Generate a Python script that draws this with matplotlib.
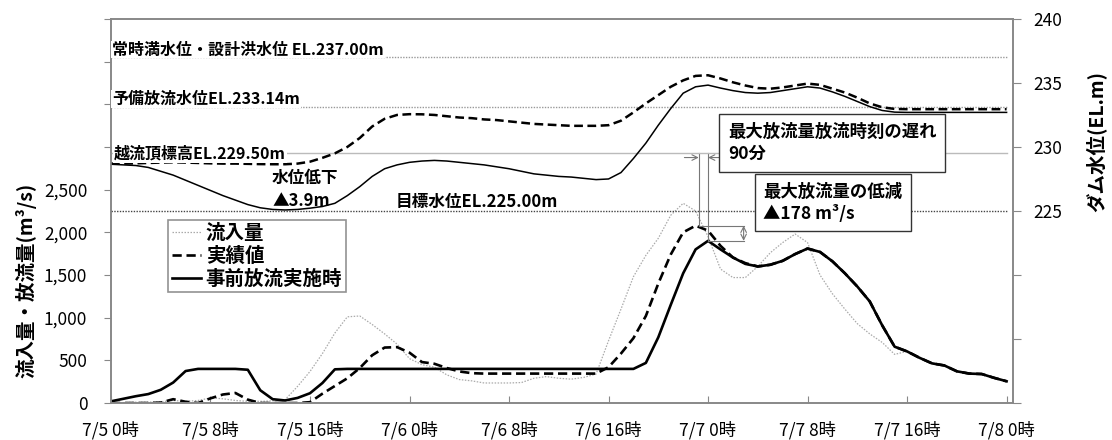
import matplotlib
matplotlib.use('Agg')
import matplotlib.pyplot as plt

plt.rcParams['font.family'] = ['Noto Sans CJK JP', 'DejaVu Sans']

# hours from 7/5 0時
hours = list(range(73))

# 流入量 (m3/s)
inflow = [0, 5, 10, 10, 15, 30, 20, 30, 60, 50, 30, 20, 20, 25, 40, 195, 370, 580, 820, 1010,
          1020, 920, 810, 690, 520, 450, 420, 330, 275, 260, 235, 235, 235, 240, 290, 310, 290, 280, 300, 340,
          730, 1100, 1480, 1730, 1930, 2200, 2340, 2250, 1950, 1570, 1470, 1470, 1600, 1760, 1880, 1980,
          1880, 1500, 1280, 1100, 930, 810, 710, 570, 605, 530, 465, 440, 372, 345, 340, 295, 255]

# 実績値 放流量
actual_q = [0, 0, 0, 0, 5, 45, 15, 0, 55, 100, 118, 40, 0, 0, 0, 0, 10, 110, 200, 290,
            410, 560, 650, 655, 590, 480, 460, 410, 370, 350, 345, 345, 345, 345, 345, 345, 345, 345, 345, 345,
            420, 580, 760, 1020, 1400, 1740, 2000, 2078, 2020, 1842, 1705, 1639, 1600, 1620, 1666, 1745,
            1810, 1770, 1660, 1520, 1365, 1190, 910, 660, 605, 530, 465, 440, 372, 345, 340, 295, 255]

# 事前放流実施時 放流量
pre_q = [20, 50, 80, 105, 155, 240, 375, 400, 400, 400, 400, 390, 150, 45, 30, 60, 115, 235, 395, 400,
         400, 400, 400, 400, 400, 400, 400, 400, 400, 400, 400, 400, 400, 400, 400, 400, 400, 400, 400, 400,
         400, 400, 400, 470, 770, 1150, 1520, 1800, 1900, 1800, 1705, 1630, 1600, 1620, 1666, 1745,
         1810, 1770, 1660, 1520, 1365, 1190, 910, 660, 605, 530, 465, 440, 372, 345, 340, 295, 255]

# ダム水位 (EL.m)
actual_wl = [228.7, 228.7, 228.72, 228.75, 228.78, 228.8, 228.78, 228.75, 228.72, 228.7, 228.7, 228.68,
             228.66, 228.65, 228.65, 228.7, 228.85, 229.15, 229.5, 230.0, 230.7, 231.6, 232.2, 232.5,
             232.56, 232.55, 232.5, 232.4, 232.3, 232.25, 232.15, 232.1, 232.0, 231.9, 231.8, 231.75,
             231.7, 231.65, 231.65, 231.65, 231.7, 232.05, 232.7, 233.4, 234.05, 234.7, 235.2, 235.55,
             235.6, 235.35, 235.05, 234.8, 234.6, 234.55, 234.65, 234.8, 234.95, 234.85, 234.55, 234.25,
             233.85, 233.4, 233.1, 232.97, 232.95, 232.95, 232.95, 232.95, 232.95, 232.95, 232.95, 232.95, 232.95]
pre_wl = [228.65, 228.6, 228.55, 228.4, 228.1, 227.8, 227.4, 227.0, 226.6, 226.2, 225.85, 225.5,
          225.25, 225.12, 225.08, 225.12, 225.22, 225.35, 225.6, 226.2, 226.9, 227.7, 228.3, 228.6,
          228.8, 228.9, 228.95, 228.9, 228.8, 228.7, 228.6, 228.45, 228.3, 228.1, 227.9, 227.8,
          227.7, 227.65, 227.55, 227.45, 227.5, 228.0, 229.1, 230.3, 231.7, 233.0, 234.2, 234.7,
          234.83, 234.6, 234.4, 234.25, 234.2, 234.25, 234.4, 234.55, 234.7, 234.6, 234.3, 233.95,
          233.55, 233.15, 232.85, 232.72, 232.7, 232.7, 232.7, 232.7, 232.7, 232.7, 232.7, 232.7, 232.7]

tick_hours = [0, 8, 16, 24, 32, 40, 48, 56, 64, 72]
tick_labels = ['7/5 0時', '7/5 8時', '7/5 16時', '7/6 0時', '7/6 8時', '7/6 16時',
               '7/7 0時', '7/7 8時', '7/7 16時', '7/8 0時']

fig = plt.figure(figsize=(11.12, 4.4), dpi=100)
ax = fig.add_axes([0.0998, 0.084, 0.811, 0.873])
ax2 = ax.twinx()

spine_c = '#888888'

# flow lines
l_in, = ax.plot(hours, inflow, color='#aaaaaa', lw=0.9, dashes=(1.2, 1.2), label='流入量')
l_act, = ax.plot(hours, actual_q, color='black', lw=1.9, dashes=(3.5, 1.8), label='実績値')
l_pre, = ax.plot(hours, pre_q, color='black', lw=1.9, label='事前放流実施時')

ax.set_xlim(0, 72.5)
ax.set_ylim(0, 4500)
ax.set_yticks(range(0, 4501, 500))
ax.set_yticklabels(['0', '500', '1,000', '1,500', '2,000', '2,500', '', '', '', ''])
ax.set_xticks(tick_hours)
ax.set_xticklabels(tick_labels)
ax.tick_params(axis='x', direction='in', length=5, pad=13, labelsize=12.5, color=spine_c)
ax.tick_params(axis='y', direction='out', length=5, pad=12, labelsize=12.5, color=spine_c)
ax.set_ylabel('流入量・放流量(m³/s)', fontsize=14, fontweight='bold')
ax.yaxis.set_label_coords(-0.083, 0.32)
for s in ax.spines.values():
    s.set_color(spine_c)
    s.set_linewidth(1.2)

# water level lines
ax2.set_ylim(210, 240)
ax2.set_yticks(range(210, 241, 5))
ax2.set_yticklabels(['', '', '', '225', '230', '235', '240'])
ax2.tick_params(axis='y', direction='out', length=6, pad=9, labelsize=12.5, color=spine_c)
ax2.set_ylabel('ダム水位(EL.m)', fontsize=14, fontweight='bold')
ax2.yaxis.set_label_coords(1.08, 0.68)
for s in ax2.spines.values():
    s.set_color(spine_c)
    s.set_linewidth(1.2)

ax2.plot([0, 72], [237.0, 237.0], color='#999999', lw=1, dashes=(1, 1))
ax2.plot([0, 72], [233.14, 233.14], color='#999999', lw=1, dashes=(1, 1))
ax2.plot([0, 72], [229.5, 229.5], color='#bbbbbb', lw=1)
ax2.plot([0, 72], [225.0, 225.0], color='#444444', lw=1, dashes=(1, 1))

ax2.plot(hours, actual_wl, color='black', lw=1.8, dashes=(3.5, 1.8))
ax2.plot(hours, pre_wl, color='black', lw=1.1)

wbox = dict(boxstyle='square,pad=0.05', facecolor='white', edgecolor='none')
ax2.text(0.1, 237.0, '常時満水位・設計洪水位 EL.237.00m', fontsize=11.5, fontweight='bold',
         va='bottom', ha='left', bbox=wbox)
ax2.text(0.1, 233.14, '予備放流水位EL.233.14m', fontsize=11.5, fontweight='bold',
         va='bottom', ha='left', bbox=wbox)
ax2.text(0.25, 229.45, '越流頂標高EL.229.50m', fontsize=11.5, fontweight='bold',
         va='center', ha='left', bbox=wbox)
ax2.text(12.95, 227.6, '水位低下', fontsize=12, fontweight='bold', va='center', ha='left')
ax2.text(12.95, 225.8, '▲3.9m', fontsize=12, fontweight='bold', va='center', ha='left')
ax2.text(22.9, 225.74, '目標水位EL.225.00m', fontsize=12, fontweight='bold', va='center', ha='left')

# peak delay / reduction marks
gc = '#777777'
ax.plot([47.25, 47.25], [2078, 2935], color=gc, lw=0.8)
ax.plot([48, 48], [1900, 2935], color=gc, lw=0.8)
ax.plot([47.25, 50.86], [2078, 2078], color=gc, lw=0.8)
ax.plot([48, 50.86], [1900, 1900], color=gc, lw=0.8)
ax.annotate('', xy=(50.86, 2078), xytext=(50.86, 1900),
            arrowprops=dict(arrowstyle='<->', color=gc, lw=0.8, shrinkA=0, shrinkB=0))
ax.annotate('', xy=(47.25, 2876), xytext=(46.1, 2876),
            arrowprops=dict(arrowstyle='->', color=gc, lw=0.8, shrinkA=0, shrinkB=0))
ax.annotate('', xy=(48, 2876), xytext=(49.1, 2876),
            arrowprops=dict(arrowstyle='->', color=gc, lw=0.8, shrinkA=0, shrinkB=0))

bbox_b = dict(boxstyle='square,pad=0.5', facecolor='white', edgecolor='#333333', lw=1)
ax2.text(49.6, 230.3, '最大放流量放流時刻の遅れ\n90分', fontsize=12.5, fontweight='bold',
         va='center', ha='left', linespacing=1.3, bbox=bbox_b)
ax2.text(52.45, 225.66, '最大放流量の低減\n▲178 m³/s', fontsize=12.5, fontweight='bold',
         va='center', ha='left', linespacing=1.3, bbox=bbox_b)

leg = ax2.legend(handles=[l_in, l_act, l_pre], loc='upper left', bbox_to_anchor=(0.063, 0.477),
                 borderaxespad=0, frameon=True, fancybox=False, edgecolor='#777777',
                 prop={'size': 14, 'weight': 'bold'},
                 handlelength=1.5, handletextpad=0.25, labelspacing=0.18, borderpad=0.2)
leg.get_frame().set_linewidth(1.2)

fig.savefig('out.png', dpi=100)
